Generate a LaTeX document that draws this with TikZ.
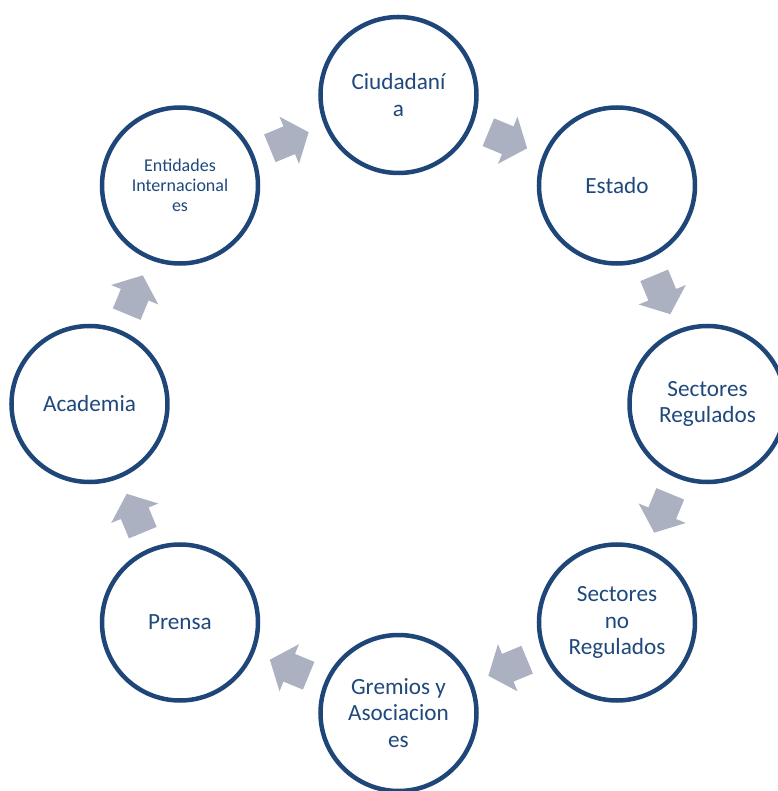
\documentclass[tikz,border=0pt]{standalone}
\usepackage{fontspec}
\setmainfont{Carlito}
\usetikzlibrary{calc}
\definecolor{azulcirc}{RGB}{31,70,120}
\definecolor{azultexto}{RGB}{31,73,125}
\definecolor{grisflecha}{RGB}{172,177,194}

\begin{document}
\begin{tikzpicture}[
    actor/.style={circle, draw=azulcirc, line width=0.1125cm, fill=white, minimum size=3.9cm, inner sep=0pt, align=center, text=azultexto, font=\fontsize{16.5}{18.9}\selectfont},
    actorchico/.style={actor, font=\fontsize{12.8}{14.2}\selectfont},
    flecha/.pic={\fill[grisflecha] (-0.525,-0.375) -- (0,-0.375) -- (0,-0.6375) -- (0.525,0) -- (0,0.6375) -- (0,0.375) -- (-0.525,0.375) -- cycle;}
]
    \useasboundingbox (-9.9625,-9.675) rectangle (9.4625,10.1);

    % Actors around the cycle
    \node[actor] (ciud) at (90:7.725) {Ciudadaní\\a};
    \node[actor] (estado) at (45:7.725) {Estado};
    \node[actor] (sreg) at (0:7.725) {Sectores\\Regulados};
    \node[actor] (snoreg) at (-45:7.725) {Sectores\\no\\Regulados};
    \node[actor] (gremios) at (-90:7.725) {Gremios y\\Asociacion\\es};
    \node[actor] (prensa) at (-135:7.725) {Prensa};
    \node[actor] (academia) at (180:7.725) {Academia};
    \node[actorchico] (entidades) at (135:7.725) {Entidades\\Internacional\\es};

    % Block arrows between neighbours
    \pic[rotate=-22.5] at ($(ciud)!0.5!(estado)$) {flecha};
    \pic[rotate=-67.5] at ($(estado)!0.5!(sreg)$) {flecha};
    \pic[rotate=-112.5] at ($(sreg)!0.5!(snoreg)$) {flecha};
    \pic[rotate=-157.5] at ($(snoreg)!0.5!(gremios)$) {flecha};
    \pic[rotate=157.5] at ($(gremios)!0.5!(prensa)$) {flecha};
    \pic[rotate=112.5] at ($(prensa)!0.5!(academia)$) {flecha};
    \pic[rotate=67.5] at ($(academia)!0.5!(entidades)$) {flecha};
    \pic[rotate=22.5] at ($(entidades)!0.5!(ciud)$) {flecha};
\end{tikzpicture}
\end{document}
